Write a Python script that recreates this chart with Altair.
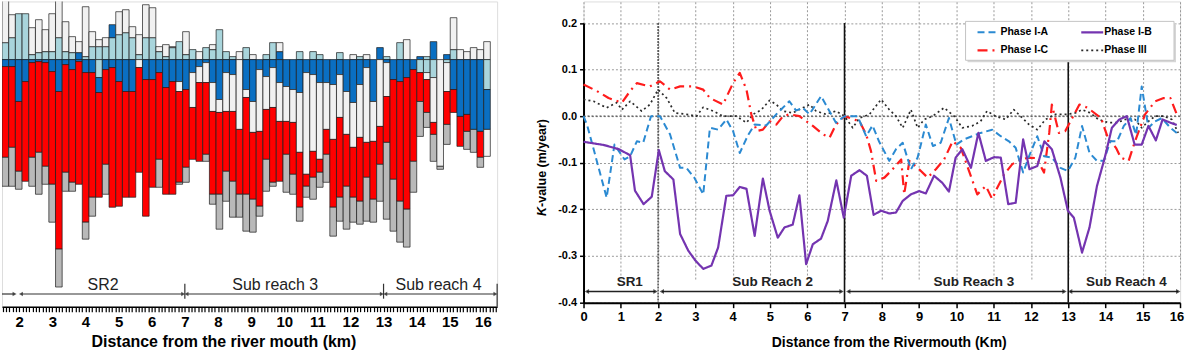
import altair as alt
import pandas as pd

FONT = "Liberation Sans"

# ---------------- left panel: change per cross-section ----------------
stations = [round(1.58 + 0.202 * i, 3) for i in range(73)]

# cumulative boundaries above zero (light blue, dark blue, hatched top)
up_lb = [17, 22, 46, 46, 5, 7, 8, 8, 22, 8, 7, 0, 3, 13, 13, 13, 22, 25, 27, 22, 5, 22, 22, 8, 3,
         12, 18, 5, 10, 0, 12, 10, 30, 8, 3, 0, 12, 0, 0, 5, 17, 0, 0, 0, 8, 0, 8, 5, 0, 0,
         7, 0, 0, 3, 0, 0, 0, 3, 0, 17, 0, 0, 0, 3, 0, 0, 0, 10, 0, 0, 0, 0, 0]
up_db = [17, 22, 46, 46, 5, 7, 8, 8, 22, 8, 7, 7, 3, 13, 13, 13, 35, 25, 27, 22, 5, 22, 22, 8, 3,
         12, 18, 5, 10, 0, 12, 10, 30, 8, 3, 0, 12, 0, 0, 5, 17, 8, 0, 0, 8, 0, 8, 5, 0, 0,
         7, 0, 0, 3, 0, 0, 12, 3, 0, 17, 0, 0, 3, 3, 18, 0, 5, 10, 0, 0, 0, 0, 0]
up_top = [62, 45, 46, 46, 32, 40, 30, 46, 62, 38, 23, 18, 53, 28, 20, 22, 35, 48, 50, 33, 25, 55, 52, 13, 15,
          13, 18, 28, 10, 8, 12, 15, 30, 8, 3, 8, 12, 5, 0, 5, 17, 17, 0, 0, 8, 0, 8, 5, 0, 0,
          7, 0, 5, 3, 5, 0, 12, 3, 0, 17, 20, 0, 3, 3, 18, 0, 5, 42, 10, 8, 12, 10, 18]
# cumulative depths below zero (light blue, dark blue, hatched, red, grey hatched)
dn_lb = [0, 0, 0, 0, 0, 0, 0, 0, 0, 0, 0, 0, 0, 0, 18, 0, 0, 0, 0, 0, 0, 0, 0, 0, 0,
         0, 0, 0, 0, 0, 0, 0, 0, 0, 0, 0, 0, 0, 0, 0, 0, 0, 0, 0, 0, 0, 0, 0, 0, 0,
         0, 0, 0, 0, 0, 0, 0, 0, 0, 0, 0, 0, 13, 13, 18, 0, 3, 0, 0, 0, 0, 0, 30]
dn_db = [7, 7, 42, 22, 3, 2, 3, 12, 32, 5, 10, 2, 13, 13, 33, 10, 8, 22, 32, 32, 0, 20, 20, 13, 28,
         22, 22, 30, 13, 7, 3, 23, 40, 13, 15, 0, 30, 42, 10, 17, 8, 23, 27, 30, 33, 13, 15, 23, 23, 25,
         15, 32, 43, 25, 8, 42, 0, 3, 20, 22, 18, 10, 13, 13, 18, 0, 3, 30, 57, 55, 70, 72, 70]
dn_wh = [7, 7, 42, 22, 3, 2, 3, 12, 32, 5, 10, 2, 13, 13, 33, 10, 8, 22, 32, 32, 8, 20, 20, 13, 28,
         22, 32, 30, 48, 23, 23, 52, 53, 52, 52, 70, 38, 73, 72, 50, 48, 62, 62, 63, 93, 115, 92, 100, 70, 80,
         58, 75, 88, 78, 83, 82, 67, 37, 20, 22, 18, 10, 13, 20, 63, 107, 32, 30, 57, 55, 70, 72, 97]
dn_red = [98, 88, 112, 122, 98, 93, 107, 125, 190, 113, 123, 125, 163, 138, 138, 105, 148, 147, 138, 138, 113, 157, 128, 100, 135,
          135, 123, 108, 100, 102, 95, 135, 135, 112, 122, 135, 135, 140, 147, 100, 123, 122, 95, 115, 148, 127, 118, 113, 95, 148,
          138, 127, 138, 142, 118, 140, 105, 83, 120, 142, 150, 102, 42, 53, 75, 107, 65, 53, 87, 72, 70, 98, 97]
dn_gray = [127, 127, 130, 122, 127, 135, 125, 163, 228, 132, 132, 125, 180, 157, 138, 135, 148, 147, 138, 138, 113, 157, 128, 128, 135,
           135, 125, 123, 100, 102, 102, 145, 170, 142, 158, 158, 172, 173, 157, 132, 127, 122, 133, 135, 162, 138, 140, 128, 123, 177,
           162, 170, 163, 165, 162, 163, 142, 160, 172, 183, 188, 133, 77, 68, 102, 110, 85, 53, 87, 90, 93, 108, 97]

part_names = ["lb", "db", "wh", "red", "gray"]
part_colors = ["#a9d5dc", "#0a6fc2", "#f1f1f1", "#ff0000", "#b9b9b9"]

rows = []
for i, km in enumerate(stations):
    segs = [
        ("lb", 0, up_lb[i]), ("db", up_lb[i], up_db[i]), ("wh", up_db[i], up_top[i]),
        ("lb", 0, -dn_lb[i]), ("db", -dn_lb[i], -dn_db[i]), ("wh", -dn_db[i], -dn_wh[i]),
        ("red", -dn_wh[i], -dn_red[i]), ("gray", -dn_red[i], -dn_gray[i]),
    ]
    for part, a, b in segs:
        if a != b:
            rows.append({"x0": km - 0.1, "x1": km + 0.1, "y0": a, "y1": b, "part": part})
seg_df = pd.DataFrame(rows)

left_x = alt.Scale(domain=[1.479, 16.43], nice=False, zero=False)
left_y = alt.Scale(domain=[-247.7, 58.3], nice=False, zero=False)
left_ticks = [round(1.5 + 0.1 * k, 1) for k in range(150)]
x_axis_l = alt.Axis(
    values=left_ticks,
    labelExpr="abs(datum.value - round(datum.value)) < 0.01 ? format(datum.value, 'd') : ''",
    labelOverlap=False, labelFlush=False, grid=False,
    domainColor="black", domainWidth=1.5, tickColor="black", tickSize=5, tickWidth=1.2,
    labelFont=FONT, labelFontSize=15, labelFontWeight="bold", labelColor="black", labelPadding=3,
    title="Distance from the river mouth (km)", titleFont=FONT, titleFontSize=16,
    titleFontWeight="bold", titleColor="black", titlePadding=4, titleX=222,
)


def lx(field):
    return alt.X(field, type="quantitative", scale=left_x, axis=x_axis_l)


def ly(field):
    return alt.Y(field, type="quantitative", scale=left_y, axis=None)


bars = alt.Chart(seg_df).mark_rect(stroke="#1c1c1c", strokeWidth=0.7, clip=True).encode(
    x=lx("x0"), x2="x1", y=ly("y0"), y2="y1",
    fill=alt.Fill("part:N", scale=alt.Scale(domain=part_names, range=part_colors), legend=None),
)

left_reaches = pd.DataFrame({
    "a": [1.479, 2.05, 7.05, 13.05],
    "b": [1.86, 6.95, 12.95, 16.38],
    "label": ["", "SR2", "Sub reach 3", "Sub reach 4"],
    "mid": [1.6, 4.53, 9.73, 14.66],
    "yl": [-235] * 4,
    "yt": [-225.7] * 4,
})
l_rule = alt.Chart(left_reaches).mark_rule(color="#333", strokeWidth=1.2).encode(
    x=lx("a"), x2="b", y=ly("yl"))
l_head_r = alt.Chart(left_reaches).mark_point(shape="triangle-right", filled=True, color="#222", size=22).encode(
    x=lx("b"), y=ly("yl"))
l_head_l = alt.Chart(left_reaches.iloc[1:]).mark_point(shape="triangle-left", filled=True, color="#222", size=22).encode(
    x=lx("a"), y=ly("yl"))
l_text = alt.Chart(left_reaches).mark_text(font=FONT, fontSize=16, color="#222").encode(
    x=lx("mid"), y=ly("yt"), text="label:N")
left_seps = pd.DataFrame({"km": [7, 13, 16.43], "top": [-224.7, -224.7, -224.7], "bot": [-239.7, -239.7, -247.7]})
l_sep = alt.Chart(left_seps).mark_rule(color="#333", strokeWidth=1.2).encode(
    x=lx("km"), y=ly("top"), y2="bot")

left = alt.layer(bars, l_rule, l_head_r, l_head_l, l_text, l_sep).properties(width=496.4, height=306)

# ---------------- right panel: K-value profiles ----------------
phase_ia = [(0.0, 0.0), (0.1, -0.02), (0.62, -0.175), (0.83, -0.061), (1.1, -0.093), (1.25, -0.086), (1.43, -0.054),
            (1.6, -0.057), (1.81, 0.0), (2.05, 0.0), (2.32, -0.039), (2.59, -0.111), (2.76, -0.111), (2.97, -0.132),
            (3.21, -0.168), (3.39, -0.025), (3.61, -0.029), (3.83, -0.007), (4.01, -0.032), (4.19, -0.079),
            (4.41, -0.041), (4.59, -0.018), (4.9, -0.02), (5.17, 0.004), (5.52, 0.032), (5.7, 0.012), (5.88, 0.018),
            (6.06, 0.004), (6.37, 0.043), (6.77, -0.014), (7.0, 0.0), (7.35, 0.0), (7.58, -0.043), (7.75, -0.02),
            (7.93, -0.055), (8.2, -0.096), (8.38, -0.071), (8.56, -0.057), (8.78, -0.114), (8.96, -0.089),
            (9.18, -0.018), (9.37, -0.064), (9.58, -0.057), (9.8, -0.004), (10.0, -0.061), (10.2, -0.05),
            (10.42, -0.043), (10.65, -0.036), (10.96, -0.029), (11.19, -0.043), (11.41, -0.054), (11.59, -0.068),
            (11.79, -0.121), (11.95, -0.086), (12.17, -0.043), (12.35, -0.086), (12.56, -0.089), (12.79, -0.111),
            (12.99, -0.118), (13.19, -0.089), (13.37, -0.021), (13.57, -0.079), (13.77, -0.096), (13.95, -0.096),
            (14.13, -0.054), (14.31, -0.054), (14.49, -0.021), (14.67, -0.004), (14.82, -0.04), (14.97, 0.064),
            (15.15, -0.025), (15.33, -0.011), (15.51, -0.004), (15.74, -0.025), (15.91, -0.036)]
phase_ib = [(0.0, -0.055), (0.55, -0.062), (0.95, -0.071), (1.25, -0.084), (1.38, -0.16), (1.61, -0.189),
            (1.83, -0.173), (2.02, -0.073), (2.18, -0.118), (2.41, -0.136), (2.59, -0.253), (2.81, -0.289),
            (3.0, -0.31), (3.21, -0.328), (3.43, -0.321), (3.61, -0.282), (3.83, -0.171), (4.01, -0.17),
            (4.19, -0.152), (4.37, -0.156), (4.59, -0.257), (4.81, -0.134), (4.99, -0.203), (5.21, -0.261),
            (5.39, -0.239), (5.61, -0.233), (5.79, -0.17), (5.97, -0.318), (6.15, -0.275), (6.37, -0.263),
            (6.55, -0.225), (6.78, -0.138), (6.98, -0.218), (7.18, -0.128), (7.4, -0.116), (7.6, -0.128),
            (7.78, -0.212), (7.98, -0.203), (8.2, -0.209), (8.38, -0.207), (8.56, -0.182), (8.78, -0.168),
            (9.0, -0.161), (9.18, -0.166), (9.4, -0.128), (9.62, -0.143), (9.8, -0.162), (9.98, -0.089),
            (10.16, -0.071), (10.39, -0.111), (10.59, -0.036), (10.79, -0.096), (11.01, -0.088), (11.19, -0.089),
            (11.39, -0.189), (11.59, -0.186), (11.79, -0.05), (11.96, -0.114), (12.17, -0.107), (12.36, -0.054),
            (12.56, -0.071), (12.79, -0.132), (12.99, -0.203), (13.15, -0.218), (13.37, -0.293), (13.57, -0.239),
            (13.77, -0.15), (13.98, -0.089), (14.17, -0.025), (14.37, -0.007), (14.57, 0.0), (14.78, -0.061),
            (14.97, -0.061), (15.15, -0.021), (15.35, -0.052), (15.53, -0.007), (15.74, -0.014), (15.91, -0.019)]
phase_ic = [(0.0, 0.068), (0.36, 0.054), (0.67, 0.039), (1.03, 0.029), (1.25, 0.054), (1.43, 0.071), (1.78, 0.064),
            (2.05, 0.075), (2.32, 0.057), (2.59, 0.064), (2.94, 0.064), (3.21, 0.057), (3.39, 0.039), (3.74, 0.025),
            (4.01, 0.071), (4.19, 0.093), (4.37, 0.057), (4.5, 0.004), (4.64, -0.032), (4.81, -0.029),
            (4.99, -0.011), (5.17, -0.018), (5.35, 0.0), (5.52, 0.004), (5.79, 0.0), (6.15, -0.021),
            (6.42, -0.039), (6.6, -0.046), (6.77, -0.018), (7.0, 0.0), (7.4, -0.011), (7.58, -0.039),
            (7.71, -0.075), (7.85, -0.139), (8.07, -0.132), (8.29, -0.114), (8.52, -0.093), (8.6, -0.168),
            (8.74, -0.096), (9.0, -0.114), (9.23, -0.132), (9.45, -0.114), (9.67, -0.093), (9.9, -0.054),
            (10.12, -0.068), (10.34, -0.118), (10.56, -0.168), (10.79, -0.15), (10.96, -0.178), (11.1, -0.153),
            (11.28, -0.125), (11.5, -0.103), (11.72, -0.093), (11.95, -0.089), (12.15, -0.09), (12.35, -0.121),
            (12.49, -0.036), (12.56, 0.025), (12.75, -0.036), (12.92, -0.032), (13.3, 0.025), (13.52, 0.018),
            (13.88, -0.004), (14.06, -0.046), (14.28, -0.068), (14.41, -0.089), (14.62, -0.096), (14.79, -0.054),
            (15.06, 0.004), (15.33, 0.032), (15.56, 0.039), (15.74, 0.039), (15.91, 0.004)]
phase_iii = [(0.0, 0.036), (0.27, 0.032), (0.62, 0.018), (0.89, 0.029), (1.03, 0.014), (1.25, 0.032), (1.56, 0.011),
             (1.78, 0.025), (2.0, 0.057), (2.23, 0.039), (2.45, 0.007), (2.76, 0.004), (3.03, 0.0), (3.21, 0.019),
             (3.48, 0.011), (3.74, 0.0), (4.1, 0.0), (4.37, -0.014), (4.55, 0.004), (4.77, 0.014), (4.99, 0.034),
             (5.17, 0.025), (5.35, 0.011), (5.61, 0.007), (5.88, 0.018), (6.06, 0.025), (6.24, 0.011), (6.5, 0.004),
             (6.77, 0.011), (7.0, 0.0), (7.22, -0.025), (7.4, -0.004), (7.67, 0.004), (7.98, 0.036), (8.2, 0.014),
             (8.38, 0.0), (8.56, -0.025), (8.78, 0.014), (8.96, -0.025), (9.14, -0.007), (9.36, 0.0), (9.67, 0.018),
             (9.94, 0.0), (10.16, -0.025), (10.42, -0.021), (10.65, -0.011), (10.82, 0.011), (11.05, 0.0),
             (11.32, -0.007), (11.54, 0.014), (11.72, 0.0), (11.95, -0.018), (12.17, -0.029), (12.39, -0.007),
             (12.66, 0.004), (12.97, 0.004), (13.19, 0.007), (13.37, 0.014), (13.59, 0.007), (13.81, -0.007),
             (14.08, -0.014), (14.31, -0.014), (14.53, -0.007), (14.79, -0.007), (14.97, -0.025), (15.15, -0.011),
             (15.33, 0.0), (15.56, 0.0), (15.78, -0.007), (15.95, -0.036)]

phases = ["Phase I-A", "Phase I-B", "Phase I-C", "Phase III"]
series = [phase_ia, phase_ib, phase_ic, phase_iii]
# colour, dash pattern, stroke width per phase
styles = {
    "Phase I-A": ("#2b8ad2", [7, 4], 2.0),
    "Phase I-B": ("#7434b0", [1, 0], 2.2),
    "Phase I-C": ("#ff1c1c", [10, 5, 2, 5], 2.2),
    "Phase III": ("#2a2a2a", [2, 3], 1.7),
}

right_x = alt.Scale(domain=[0, 16], nice=False, zero=False)
right_y = alt.Scale(domain=[-0.4, 0.2], range=[301.7, 21.7], nice=False, zero=False)

x_axis_r = alt.Axis(
    values=list(range(17)), format="d", grid=True, gridColor="#9a9a9a", gridDash=[2, 2], gridWidth=1,
    domainColor="black", domainWidth=2, tickColor="black", tickSize=5, tickWidth=1.5,
    labelFont=FONT, labelFontSize=13, labelFontWeight="bold", labelColor="black", labelPadding=3,
    labelFlush=True, labelFlushOffset=3.6,
    title="Distance from the Rivermouth (Km)", titleFont=FONT, titleFontSize=14, titleFontWeight="bold",
    titleColor="black", titlePadding=12, titleX=306,
)
y_axis_r = alt.Axis(
    values=[-0.4, -0.3, -0.2, -0.1, 0, 0.1, 0.2],
    labelExpr="datum.value < 0 ? '-' + format(-datum.value, '.1f') : format(datum.value, '.1f')",
    grid=True, gridColor="#9a9a9a", gridDash=[2, 2], gridWidth=1,
    domainColor="black", domainWidth=2, tickColor="black", tickSize=4, tickWidth=1.5,
    labelFont=FONT, labelFontSize=11, labelFontWeight="bold", labelColor="black", labelPadding=3,
    title=None,
)


def rx(field):
    return alt.X(field, type="quantitative", scale=right_x, axis=x_axis_r)


def ry(field):
    return alt.Y(field, type="quantitative", scale=right_y, axis=y_axis_r)


zero_df = pd.DataFrame({"lo": [0], "hi": [16], "k": [0.0]})
zero_line = alt.Chart(zero_df).mark_rule(color="#555", strokeDash=[2, 2], strokeWidth=1.2).encode(
    x=rx("lo"), x2="hi", y=ry("k"))

bounds_df = pd.DataFrame({"km": [7, 13], "top": [0.2] * 2, "bot": [-0.4] * 2})
bound_lines = alt.Chart(bounds_df).mark_rule(color="#111", strokeWidth=1.6).encode(
    x=rx("km"), y=ry("top"), y2="bot")
sr1_df = pd.DataFrame({"km": [2], "top": [0.2], "bot": [-0.4]})
sr1_line = alt.Chart(sr1_df).mark_rule(color="#333", strokeWidth=1.3, strokeDash=[2, 1]).encode(
    x=rx("km"), y=ry("top"), y2="bot")

line_layers = []
for name in ["Phase III", "Phase I-C", "Phase I-A", "Phase I-B"]:
    pts = series[phases.index(name)]
    df = pd.DataFrame(pts, columns=["km", "k"])
    color, dash, width = styles[name]
    line_layers.append(
        alt.Chart(df).mark_line(color=color, strokeDash=dash, strokeWidth=width, strokeJoin="round").encode(
            x=rx("km"), y=ry("k"), order=alt.Order("km:Q"))
    )

reach_df = pd.DataFrame({
    "a": [0.09, 2.1, 7.1, 13.05],
    "b": [1.93, 6.92, 12.9, 15.95],
    "label": ["SR1", "Sub Reach 2", "Sub Reach 3", "Sub Reach 4"],
    "mid": [1.24, 5.07, 10.47, 14.56],
    "yl": [-0.3765] * 4,
    "yt": [-0.357] * 4,
})
r_rule = alt.Chart(reach_df).mark_rule(color="#222", strokeWidth=1.4).encode(x=rx("a"), x2="b", y=ry("yl"))
r_head_l = alt.Chart(reach_df).mark_point(shape="triangle-left", filled=True, color="#111", size=26).encode(
    x=rx("a"), y=ry("yl"))
r_head_r = alt.Chart(reach_df).mark_point(shape="triangle-right", filled=True, color="#111", size=26).encode(
    x=rx("b"), y=ry("yl"))
r_text = alt.Chart(reach_df).mark_text(font=FONT, fontSize=13.5, fontWeight="bold", color="#222").encode(
    x=rx("mid"), y=ry("yt"), text="label:N")

one = pd.DataFrame({"n": [0]})
y_title_k = alt.Chart(one).mark_text(
    angle=270, align="right", baseline="middle", font=FONT, fontSize=12.5, fontWeight="bold",
    fontStyle="italic", color="black",
).encode(x=alt.value(-42), y=alt.value(206), text=alt.value("K"))
y_title_rest = alt.Chart(one).mark_text(
    angle=270, align="left", baseline="middle", font=FONT, fontSize=12.5, fontWeight="bold", color="black",
).encode(x=alt.value(-42), y=alt.value(206), text=alt.value("-value (m/year)"))

# legend box (pixel layout inside the right panel)
leg_shadow = alt.Chart(one).mark_rect(fill="#d6d6d6").encode(
    x=alt.value(385), x2=alt.value(594), y=alt.value(22), y2=alt.value(61))
leg_box = alt.Chart(one).mark_rect(fill="white", stroke="#c4c4c4", strokeWidth=1).encode(
    x=alt.value(383), x2=alt.value(592), y=alt.value(20), y2=alt.value(59))
legend_layers = [leg_shadow, leg_box]
legend_slots = {
    "Phase I-A": (395, 31), "Phase I-B": (499, 31),
    "Phase I-C": (395, 49), "Phase III": (499, 49),
}
for name in phases:
    color, dash, width = styles[name]
    sx, sy = legend_slots[name]
    legend_layers.append(
        alt.Chart(one).mark_rule(color=color, strokeDash=dash, strokeWidth=width).encode(
            x=alt.value(sx), x2=alt.value(sx + 22), y=alt.value(sy))
    )
    legend_layers.append(
        alt.Chart(one).mark_text(align="left", baseline="middle", font=FONT, fontSize=10.5,
                                 fontWeight="bold", color="black").encode(
            x=alt.value(sx + 23), y=alt.value(sy), text=alt.value(name))
    )

right = alt.layer(
    zero_line, sr1_line, bound_lines, *line_layers, r_rule, r_head_l, r_head_r, r_text,
    y_title_k, y_title_rest, *legend_layers
).properties(width=598.1, height=302)

chart = alt.hconcat(left, right, spacing=36).properties(
    padding=0, background="white"
).configure_view(stroke=None).configure(font=FONT)

chart.save("out.html", embed_options={"renderer": "svg", "actions": False})
